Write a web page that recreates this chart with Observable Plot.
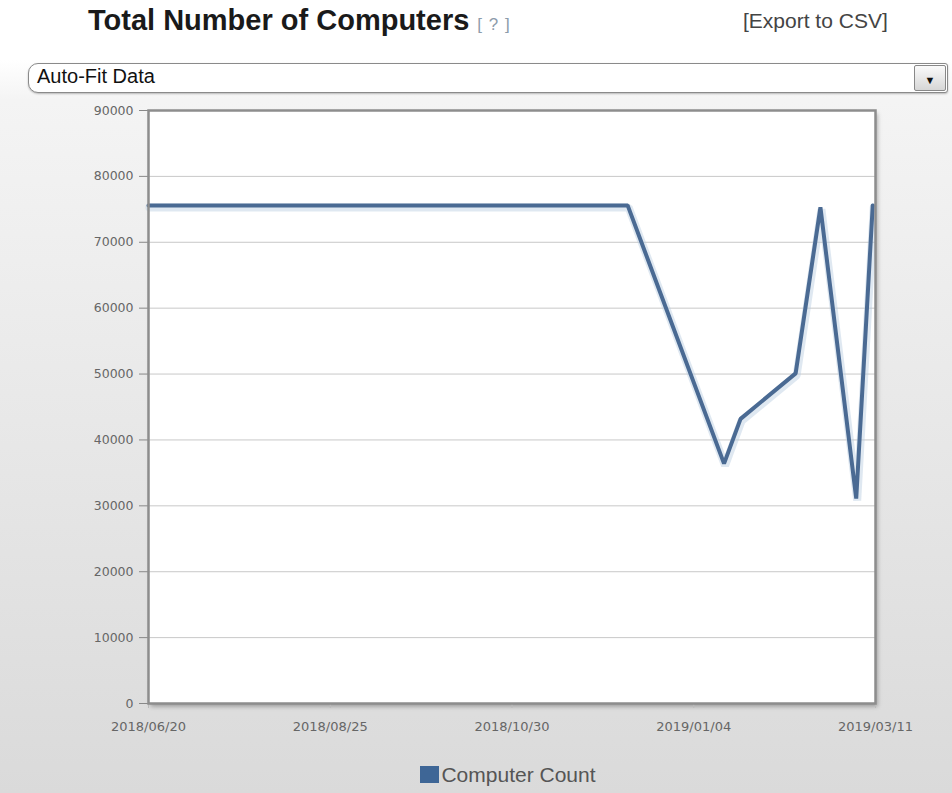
<!DOCTYPE html>
<html>
<head>
<meta charset="utf-8">
<script src="https://cdn.jsdelivr.net/npm/d3@7"></script>
<script src="https://cdn.jsdelivr.net/npm/@observablehq/plot@0.6"></script>
<style>
  html, body { margin: 0; padding: 0; }
  body {
    width: 952px; height: 793px; position: relative; overflow: hidden;
    background: linear-gradient(to bottom, #ffffff 0px, #ffffff 60px, #f4f4f4 100px, #dadada 793px);
    font-family: "Liberation Sans", Arial, sans-serif;
  }
  #title {
    position: absolute; left: 88px; top: 4px;
    font-family: "Liberation Sans", Arial, sans-serif;
    font-weight: bold; font-size: 29px; color: #1a1a1a; white-space: nowrap;
  }
  #title .q { font-weight: normal; font-size: 17px; color: #8d9cab; margin-left: 8px; letter-spacing: 1px; }
  #export {
    position: absolute; left: 743px; top: 9px;
    font-family: "Liberation Sans", Arial, sans-serif;
    font-size: 21px; color: #444; white-space: nowrap;
  }
  #dropdown {
    position: absolute; left: 28px; top: 63px; width: 918px; height: 28px;
    border: 1px solid #8a8a8a; border-radius: 10px 3px 3px 10px; background: #fff;
    box-shadow: 0 1px 2px rgba(0,0,0,0.25);
  }
  #dropdown .txt {
    position: absolute; left: 8px; top: 1px;
    font-family: "Liberation Sans", Arial, sans-serif;
    font-size: 20px; color: #111;
  }
  #dropdown .btn {
    position: absolute; right: 1px; top: 1px; width: 30px; height: 24px;
    border: 1px solid #888; border-radius: 2px;
    background: linear-gradient(#fafafa, #d6d6d6);
    font-size: 11px; text-align: center; line-height: 28px; color: #111;
  }
  #chart { position: absolute; left: 0; top: 98px; }
  #legend {
    position: absolute; left: 0; width: 1016px; top: 763px; text-align: center;
    font-family: "Liberation Sans", Arial, sans-serif;
    font-size: 21px; color: #555;
  }
  #legend .sw { display: inline-block; width: 19px; height: 17px; background: #3e6696; vertical-align: -1px; margin-right: 2px; }
</style>
</head>
<body>
<div id="title">Total Number of Computers<span class="q">[ ? ]</span></div>
<div id="export">[Export to CSV]</div>
<div id="dropdown"><span class="txt">Auto-Fit Data</span><span class="btn">&#9660;</span></div>
<div id="chart"></div>
<div id="legend"><span class="sw"></span>Computer Count</div>
<script>
const dates = ["2018-06-20","2018-12-11","2019-01-15","2019-01-21","2019-02-10","2019-02-19","2019-03-04","2019-03-10"];
const counts = [75600, 75600, 36400, 43200, 50100, 75300, 31100, 75600];
const yTicks = [0, 10000, 20000, 30000, 40000, 50000, 60000, 70000, 80000, 90000];
const xTickLabels = ["2018/06/20","2018/08/25","2018/10/30","2019/01/04","2019/03/11"];

const parse = d3.utcParse("%Y-%m-%d");
const parseTick = d3.utcParse("%Y/%m/%d");
const data = dates.map((d, i) => ({date: parse(d), count: counts[i]}));
const xTicks = xTickLabels.map(parseTick);
const fmt = d3.utcFormat("%Y/%m/%d");

const plot = Plot.plot({
  width: 952,
  height: 650,
  marginLeft: 148,
  marginRight: 77,
  marginTop: 12,
  marginBottom: 45,
  style: { background: "transparent", fontFamily: "'DejaVu Sans',sans-serif", fontSize: "12px", color: "#666" },
  x: { type: "utc", domain: [xTicks[0], xTicks[xTicks.length - 1]], ticks: xTicks, tickFormat: fmt, label: null },
  y: { domain: [0, 90000], ticks: yTicks, tickFormat: d => String(d), label: null },
  marks: [
    Plot.frame({ fill: "white", stroke: "none" }),
    Plot.gridY(yTicks, { stroke: "#c8c8c8", strokeOpacity: 1, strokeWidth: 1 }),
    Plot.axisY({ ticks: yTicks, tickFormat: d => String(d), tickSize: 9, tickPadding: 6, stroke: "#888", fill: "#666", fontSize: 12.5 }),
    Plot.axisX({ ticks: xTicks, tickFormat: fmt, tickSize: 5, tickPadding: 13, stroke: "#bbb", fill: "#666", fontSize: 13 }),
    Plot.line(data, { x: "date", y: "count", stroke: "#b9cbe0", strokeWidth: 8, strokeOpacity: 0.45, dx: 1, dy: 2, strokeLinejoin: "miter" }),
    Plot.line(data, { x: "date", y: "count", stroke: "#4a6a93", strokeWidth: 4, strokeLinejoin: "miter" }),
    Plot.frame({ stroke: "#8d8d8d", strokeWidth: 2.5, fill: "none" })
  ]
});
document.getElementById("chart").appendChild(plot);
const frames = plot.querySelectorAll('[aria-label="frame"]');
if (frames.length) frames[0].style.filter = "drop-shadow(2px 3px 2px rgba(0,0,0,0.3))";
</script>
</body>
</html>
